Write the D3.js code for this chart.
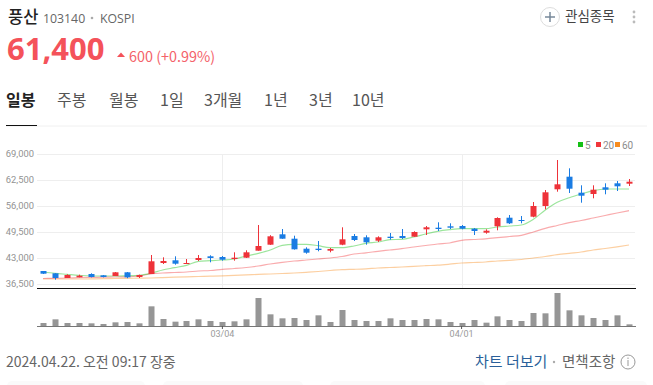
<!DOCTYPE html>
<html>
<head>
<meta charset="utf-8">
<script src="https://cdn.jsdelivr.net/npm/d3@7"></script>
<style>
  html, body { margin: 0; padding: 0; background: #fff; }
  svg { display: block; font-family: "Noto Sans CJK KR", "Noto Sans", sans-serif; }
</style>
</head>
<body>
<div id="chart"></div>
<script>
// days shown on the chart
const dates = ["02/07","02/08","02/13","02/14","02/15","02/16","02/19","02/20","02/21","02/22",
  "02/23","02/26","02/27","02/28","02/29","03/04","03/05","03/06","03/07","03/08",
  "03/11","03/12","03/13","03/14","03/15","03/18","03/19","03/20","03/21","03/22",
  "03/25","03/26","03/27","03/28","03/29","04/01","04/02","04/03","04/04","04/05",
  "04/08","04/09","04/11","04/12","04/15","04/16","04/17","04/18","04/19","04/22"];

const opens = [39750,39175,38000,38175,39000,38675,38500,39425,38250,39000,
  41750,42425,41500,42500,43425,43250,42750,43075,44825,46325,
  48925,47825,45325,45325,44825,46325,48500,48175,47325,48325,
  48500,48325,50175,50575,50925,51000,50325,49325,50925,53075,
  52500,53325,56000,60175,63325,59325,59000,60675,61675,61575];
const closes = [39075,38000,38750,38575,38250,38250,39425,38175,38750,42175,
  42250,41575,41750,43000,43000,42575,43075,44425,46000,48425,
  47825,45175,44325,45000,45250,47675,47500,46925,48175,48000,
  48000,49500,50675,50250,50575,50325,49750,49825,53000,51675,
  52250,56000,59425,61425,60325,58575,60075,60075,60925,62075];
const highs = [39750,39200,38925,38825,39175,38750,39500,39500,38850,43750,
  43175,43425,42750,43750,43675,43500,44425,44925,51250,48700,
  50250,48575,45675,47250,45500,50675,49000,48675,48425,49250,
  50250,49675,51000,51925,51675,51250,50500,50175,53175,53750,
  53500,57000,60000,67500,65425,61175,61175,61675,62250,62750];
const lows = [39000,37575,38000,38175,38150,38150,38500,37950,38000,39000,
  41500,41325,41500,42250,41925,42325,42325,43000,44825,46275,
  47800,45100,44075,44675,44425,46200,47250,46325,47000,47575,
  47750,48300,48750,49750,50250,50175,48750,49075,49925,51500,
  51675,53175,55175,59575,59250,56825,57925,58925,59750,61000];

const ma5 = [39500,39175,38925,38675,38500,38500,38500,38575,38675,39175,
  40000,40575,41175,42175,42325,42500,42750,43500,44175,45000,
  46175,46425,46425,46075,45575,45575,46000,46675,47000,47575,
  47675,48250,49000,49675,50075,50325,50325,50325,50750,51000,
  51250,52675,55000,56925,58075,59000,59825,60250,60250,60250];
const ma20 = [37875,37925,38000,38075,38150,38200,38250,38300,38500,39000,
  39250,39375,39500,39750,39875,40175,40375,40625,41000,41500,
  41925,42250,42500,42750,43000,43375,44000,44300,44675,45000,
  45325,45750,46125,46500,46750,47425,47625,47800,48075,48375,
  48675,49500,50425,51125,51825,52375,53000,53625,54250,54825];
const ma60 = [37750,37750,37750,37750,37775,37825,37875,37925,37950,38000,
  38100,38200,38300,38375,38450,38550,38675,38775,38900,39000,
  39125,39250,39425,39625,39875,40075,40175,40300,40500,40625,
  40750,40925,41075,41200,41450,41750,41875,42000,42250,42425,
  42625,43000,43375,43825,44175,44500,45000,45375,45800,46250];

// volume in thousand shares, only the relative height is readable
const volumes = [90,200,90,90,80,60,110,120,80,590,
  210,130,150,200,150,120,140,200,840,350,
  230,240,180,320,120,480,180,150,150,230,
  180,180,210,200,120,90,180,100,290,180,
  150,390,380,990,470,320,240,180,320,50];

const priceTicks = [36500,43000,49500,56000,62500,69000];
const dateTicks = ["03/04","04/01"];
const maNames = ["5","20","60"];
const maColors = ["#14c014","#f0363c","#f78c1e"];
const tabs = ["일봉","주봉","월봉","1일","3개월","1년","3년","10년"];

const width = 653, height = 385;
const RED = "#ee3239", BLUE = "#1a7ce3";

const svg = d3.select("#chart").append("svg")
  .attr("width", width).attr("height", height);

// scales
const x = d3.scaleBand().domain(dates).range([37, 635]).paddingInner(0.5).paddingOuter(0.25);
const cx = d => x(d) + x.bandwidth() / 2;
const y = d3.scaleLinear().domain([36500, 69000]).range([284, 154]);
const yVol = d3.scaleLinear().domain([0, 990]).range([326, 293]);

// grid
const grid = svg.append("g");
grid.selectAll(".h").data(priceTicks).join("line")
  .attr("x1", 37).attr("x2", 635)
  .attr("y1", d => y(d) + 0.5).attr("y2", d => y(d) + 0.5)
  .attr("stroke", "#eeeeee");
grid.selectAll(".v").data(dateTicks).join("line")
  .attr("x1", d => Math.round(cx(d)) + 0.5).attr("x2", d => Math.round(cx(d)) + 0.5)
  .attr("y1", 154).attr("y2", 288)
  .attr("stroke", "#eeeeee");

// price axis
const yAxis = svg.append("g")
  .attr("transform", "translate(34,-1)")
  .call(d3.axisLeft(y).tickValues(priceTicks).tickFormat(d3.format(",")).tickSize(0).tickPadding(0));
yAxis.select(".domain").remove();
yAxis.selectAll("text").style("font-size", "9.4px").style("fill", "#929292")
  .attr("font-family", "Roboto");

// moving averages
const line = d3.line().x((d, i) => cx(dates[i])).y(d => y(d)).curve(d3.curveMonotoneX);
[ma60, ma20, ma5].forEach((s, i) => {
  svg.append("path").datum(s)
    .attr("d", line)
    .attr("fill", "none")
    .attr("stroke", maColors[2 - i])
    .attr("stroke-opacity", 0.42)
    .attr("stroke-width", 1.2);
});

// candles
const candle = svg.append("g").selectAll("g").data(dates).join("g");
const col = i => closes[i] >= opens[i] ? RED : BLUE;
candle.append("line")
  .attr("x1", d => Math.round(cx(d)) + 0.5).attr("x2", d => Math.round(cx(d)) + 0.5)
  .attr("y1", (d, i) => y(highs[i])).attr("y2", (d, i) => y(lows[i]))
  .attr("stroke", (d, i) => col(i));
candle.append("rect")
  .attr("x", d => Math.round(cx(d)) - 2.5)
  .attr("width", 6)
  .attr("y", (d, i) => y(Math.max(opens[i], closes[i])))
  .attr("height", (d, i) => Math.max(1, Math.abs(y(opens[i]) - y(closes[i]))))
  .attr("fill", (d, i) => col(i));

// legend
const legend = svg.append("g").selectAll("g").data(maNames).join("g")
  .attr("transform", (d, i) => `translate(${[578, 596, 615][i]},142)`);
legend.append("rect").attr("width", 5).attr("height", 5).attr("fill", (d, i) => maColors[i]);
legend.append("text").attr("x", 7).attr("y", 6.5).text(d => d)
  .attr("font-size", 10).attr("fill", "#8c8c8c").attr("font-family", "Roboto");

// divider between price and volume
svg.append("line").attr("x1", 37).attr("x2", 636).attr("y1", 288.5).attr("y2", 288.5)
  .attr("stroke", "#111").attr("stroke-width", 1);

// volume bars
svg.append("g").selectAll("rect").data(dates).join("rect")
  .attr("x", d => Math.round(cx(d)) - 2.5)
  .attr("width", 6)
  .attr("y", (d, i) => yVol(volumes[i]))
  .attr("height", (d, i) => yVol(0) - yVol(volumes[i]))
  .attr("fill", "#969696");

const xAxis = svg.append("g")
  .attr("transform", "translate(0,326)")
  .call(d3.axisBottom(x).tickValues(dateTicks).tickSize(3).tickPadding(2));
xAxis.select(".domain").attr("stroke", "#777").attr("d", "M37,0.5H636");
xAxis.selectAll(".tick line").attr("stroke", "#555");
xAxis.selectAll("text").style("font-size", "9px").style("fill", "#9a9a9a")
  .attr("font-family", "Roboto");

// header
const label = (txt, px, py, size, fill, weight) => svg.append("text")
  .attr("x", px).attr("y", py).text(txt)
  .attr("font-size", size).attr("fill", fill).attr("font-weight", weight || 400);

label("풍산", 8, 23, 16.5, "#222", 500);
label("103140", 43, 23, 12.3, "#666").attr("font-family", "Open Sans");
svg.append("circle").attr("cx", 92).attr("cy", 18).attr("r", 1.3).attr("fill", "#aaa");
label("KOSPI", 100, 23, 12.3, "#666").attr("font-family", "Open Sans");
label("61,400", 7, 60, 31, "#f4525a", 700).attr("font-family", "Open Sans");
svg.append("path").attr("d", "M117,57L121,52.5L125,57Z").attr("fill", "#f4525a");
label("600 (+0.99%)", 129, 62, 14.4, "#f4626a");

// watch button
svg.append("circle").attr("cx", 550).attr("cy", 17).attr("r", 9.5)
  .attr("fill", "#fff").attr("stroke", "#ddd");
svg.append("path").attr("d", "M545,17H555M550,12V22").attr("stroke", "#78899a").attr("stroke-width", 1.5);
label("관심종목", 565, 21, 13.5, "#444");
svg.append("g").selectAll("circle").data([12, 17, 22]).join("circle")
  .attr("cx", 634).attr("cy", d => d).attr("r", 1.4).attr("fill", "#bbb");

// tabs
const tabX = [6, 57, 109, 160, 204, 264, 309, 352];
svg.append("g").selectAll("text").data(tabs).join("text")
  .attr("x", (d, i) => tabX[i]).attr("y", 106).text(d => d)
  .attr("font-size", 16)
  .attr("font-weight", (d, i) => i === 0 ? 700 : 400)
  .attr("fill", (d, i) => i === 0 ? "#222" : "#555");
svg.append("line").attr("x1", 6).attr("x2", 647).attr("y1", 126).attr("y2", 126).attr("stroke", "#f0f0f0");
svg.append("line").attr("x1", 6).attr("x2", 37).attr("y1", 125.5).attr("y2", 125.5).attr("stroke", "#111");

// footer
label("2024.04.22. 오전 09:17 장중", 6, 367, 14, "#666");
label("차트 더보기", 475, 367, 15, "#2a5f9a");
svg.append("circle").attr("cx", 554).attr("cy", 362).attr("r", 1.2).attr("fill", "#aaa");
label("면책조항", 562, 367, 14.5, "#666");
svg.append("circle").attr("cx", 628).attr("cy", 362).attr("r", 7).attr("fill", "none").attr("stroke", "#999");
svg.append("path").attr("d", "M628,360V366M628,357.5V359").attr("stroke", "#999");

// tops of the boxes below the fold
svg.append("g").selectAll("rect").data([[7, 138], [163, 140], [330, 155], [505, 142]]).join("rect")
  .attr("x", d => d[0]).attr("y", 381).attr("width", d => d[1]).attr("height", 12).attr("rx", 5)
  .attr("fill", "#fafafa");
</script>
</body>
</html>
